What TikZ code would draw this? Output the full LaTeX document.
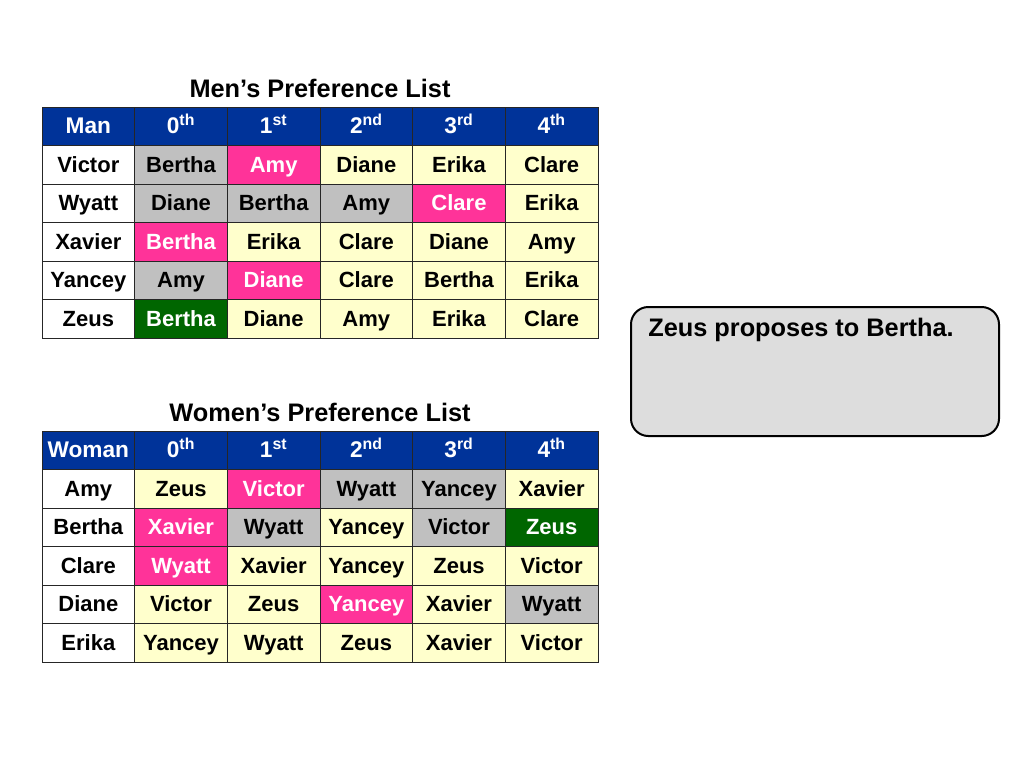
\documentclass[tikz,border=0pt]{standalone}
\usepackage{fontspec}
\setmainfont{Liberation Sans}
\definecolor{hdrblue}{RGB}{0,51,153}
\definecolor{pinkc}{RGB}{255,51,153}
\definecolor{grayc}{RGB}{192,192,192}
\definecolor{yellc}{RGB}{255,255,204}
\definecolor{greenc}{RGB}{0,102,0}
\definecolor{boxgray}{RGB}{221,221,221}
\newcommand\tcell[6]{\node[cell,#5] (#1-#3-#2) at ({42+92.667*(#2+0.5)},{#4+38.5*(#3+0.5)}) {#6};}
\begin{document}
\begin{tikzpicture}[x=0.75pt,y=-0.75pt,
  cell/.style={draw=black!85, line width=0.6pt, inner sep=0pt, outer sep=0pt,
    minimum width=69.5pt, minimum height=28.875pt, text height=13pt, text depth=1.75pt,
    font=\bfseries\fontsize{16.5}{18}\selectfont},
  cH/.style={fill=hdrblue, text=white, font=\bfseries\fontsize{17}{18}\selectfont},
  cW/.style={fill=white, text=black},
  cY/.style={fill=yellc, text=black},
  cG/.style={fill=grayc, text=black},
  cP/.style={fill=pinkc, text=white},
  cD/.style={fill=greenc, text=white},
  ttl/.style={font=\bfseries\fontsize{19}{22}\selectfont, inner sep=0pt}]
\useasboundingbox (0,0) rectangle (1024,768);
\fill[white] (0,0) rectangle (1024,768);
% Men's table
\node[ttl, anchor=base] (mtitle) at (320,97) {Men’s Preference List};
\foreach \c/\t in {0/Man,1/0\textsuperscript{th},2/1\textsuperscript{st},3/2\textsuperscript{nd},4/3\textsuperscript{rd},5/4\textsuperscript{th}}
  {\tcell{m}{\c}{0}{107}{cH}{\t}}
\foreach \c/\s/\t in {0/cW/Victor,1/cG/Bertha,2/cP/Amy,3/cY/Diane,4/cY/Erika,5/cY/Clare}
  {\tcell{m}{\c}{1}{107}{\s}{\t}}
\foreach \c/\s/\t in {0/cW/Wyatt,1/cG/Diane,2/cG/Bertha,3/cG/Amy,4/cP/Clare,5/cY/Erika}
  {\tcell{m}{\c}{2}{107}{\s}{\t}}
\foreach \c/\s/\t in {0/cW/Xavier,1/cP/Bertha,2/cY/Erika,3/cY/Clare,4/cY/Diane,5/cY/Amy}
  {\tcell{m}{\c}{3}{107}{\s}{\t}}
\foreach \c/\s/\t in {0/cW/Yancey,1/cG/Amy,2/cP/Diane,3/cY/Clare,4/cY/Bertha,5/cY/Erika}
  {\tcell{m}{\c}{4}{107}{\s}{\t}}
\foreach \c/\s/\t in {0/cW/Zeus,1/cD/Bertha,2/cY/Diane,3/cY/Amy,4/cY/Erika,5/cY/Clare}
  {\tcell{m}{\c}{5}{107}{\s}{\t}}
% Women's table
\node[ttl, anchor=base] (wtitle) at (320,421) {Women’s Preference List};
\foreach \c/\t in {0/Woman,1/0\textsuperscript{th},2/1\textsuperscript{st},3/2\textsuperscript{nd},4/3\textsuperscript{rd},5/4\textsuperscript{th}}
  {\tcell{w}{\c}{0}{431}{cH}{\t}}
\foreach \c/\s/\t in {0/cW/Amy,1/cY/Zeus,2/cP/Victor,3/cG/Wyatt,4/cG/Yancey,5/cY/Xavier}
  {\tcell{w}{\c}{1}{431}{\s}{\t}}
\foreach \c/\s/\t in {0/cW/Bertha,1/cP/Xavier,2/cG/Wyatt,3/cY/Yancey,4/cG/Victor,5/cD/Zeus}
  {\tcell{w}{\c}{2}{431}{\s}{\t}}
\foreach \c/\s/\t in {0/cW/Clare,1/cP/Wyatt,2/cY/Xavier,3/cY/Yancey,4/cY/Zeus,5/cY/Victor}
  {\tcell{w}{\c}{3}{431}{\s}{\t}}
\foreach \c/\s/\t in {0/cW/Diane,1/cY/Victor,2/cY/Zeus,3/cP/Yancey,4/cY/Xavier,5/cG/Wyatt}
  {\tcell{w}{\c}{4}{431}{\s}{\t}}
\foreach \c/\s/\t in {0/cW/Erika,1/cY/Yancey,2/cY/Wyatt,3/cY/Zeus,4/cY/Xavier,5/cY/Victor}
  {\tcell{w}{\c}{5}{431}{\s}{\t}}
% Message box
\node[draw=black, line width=1.5pt, fill=boxgray, rounded corners=13pt,
  minimum width=276pt, minimum height=96.75pt, inner sep=0pt] (box) at (815,371.5) {};
\node[ttl, anchor=base west] (msg) at (648,336) {Zeus proposes to Bertha.};
\end{tikzpicture}
\end{document}
